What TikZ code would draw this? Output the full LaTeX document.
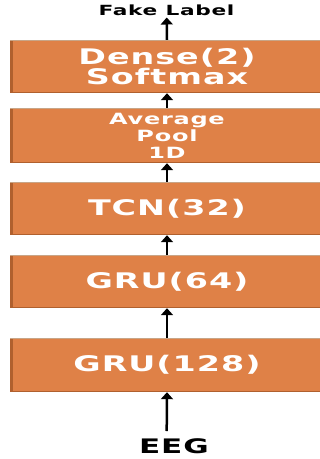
\documentclass[tikz,border=0pt]{standalone}
\usepackage{fontspec}
\usepackage{graphicx}
\usetikzlibrary{arrows.meta}
\newfontfamily\djs[LetterSpace=3]{DejaVu Sans}
\newcommand{\sx}[1]{\scalebox{1.55}[1]{#1}}
\definecolor{boxorange}{RGB}{223,129,71}
\definecolor{boxdark}{RGB}{176,96,46}
\definecolor{boxtop}{RGB}{200,165,135}
\tikzset{
  layerbox/.style={rectangle, fill=boxorange, draw=none, inner sep=0pt,
    minimum width=314pt, text=white, align=center,
    path picture={
      \fill[boxdark] (path picture bounding box.south west) rectangle ([xshift=3pt]path picture bounding box.north west);
      \draw[boxdark, line width=1pt] ([yshift=0.5pt]path picture bounding box.south west) -- ([yshift=0.5pt]path picture bounding box.south east);
      \draw[boxtop, line width=0.8pt] ([yshift=-0.4pt]path picture bounding box.north west) -- ([yshift=-0.4pt]path picture bounding box.north east);
    }},
  bigtxt/.style={font=\djs\bfseries\fontsize{21.5}{17.5}\selectfont},
  smalltxt/.style={font=\djs\bfseries\fontsize{15.5}{17}\selectfont},
  arr/.style={line width=2.5pt, -{Triangle[width=12pt,length=7pt]}}
}
\begin{document}
\begin{tikzpicture}[x=1pt,y=-1pt]
\useasboundingbox (0,0) rectangle (320,459);
\node[layerbox, bigtxt, minimum height=53pt] (d) at (167,66.5) {\sx{Dense(2)}\\\sx{Softmax}};
\node[layerbox, smalltxt, minimum height=55pt] (p) at (167,135.5) {\sx{Average}\\\sx{Pool}\\\sx{1D}};
\node[layerbox, bigtxt, minimum height=53pt] (t) at (167,208.5) {\sx{TCN(32)}};
\node[layerbox, bigtxt, minimum height=53pt] (g2) at (167,281.5) {\sx{GRU(64)}};
\node[layerbox, bigtxt, minimum height=54pt] (g1) at (167,365) {\sx{GRU(128)}};
\node[font=\djs\bfseries\fontsize{14}{15}\selectfont, inner sep=0pt] (fake) at (166.5,10.5) {\sx{Fake Label}};
\node[font=\djs\bfseries\fontsize{20}{20}\selectfont, inner sep=0pt] (eeg) at (174,446.5) {\sx{EEG}};
\coordinate (faketip) at (166.7,17.5);
\coordinate (eegtop) at (166.7,431);
\draw[arr] (eegtop) -- (g1.south);
\draw[arr] (g1.north) -- (g2.south);
\draw[arr] (g2.north) -- (t.south);
\draw[arr] (t.north) -- (p.south);
\draw[arr] (p.north) -- (d.south);
\draw[arr] (d.north) -- (faketip);
\end{tikzpicture}
\end{document}
